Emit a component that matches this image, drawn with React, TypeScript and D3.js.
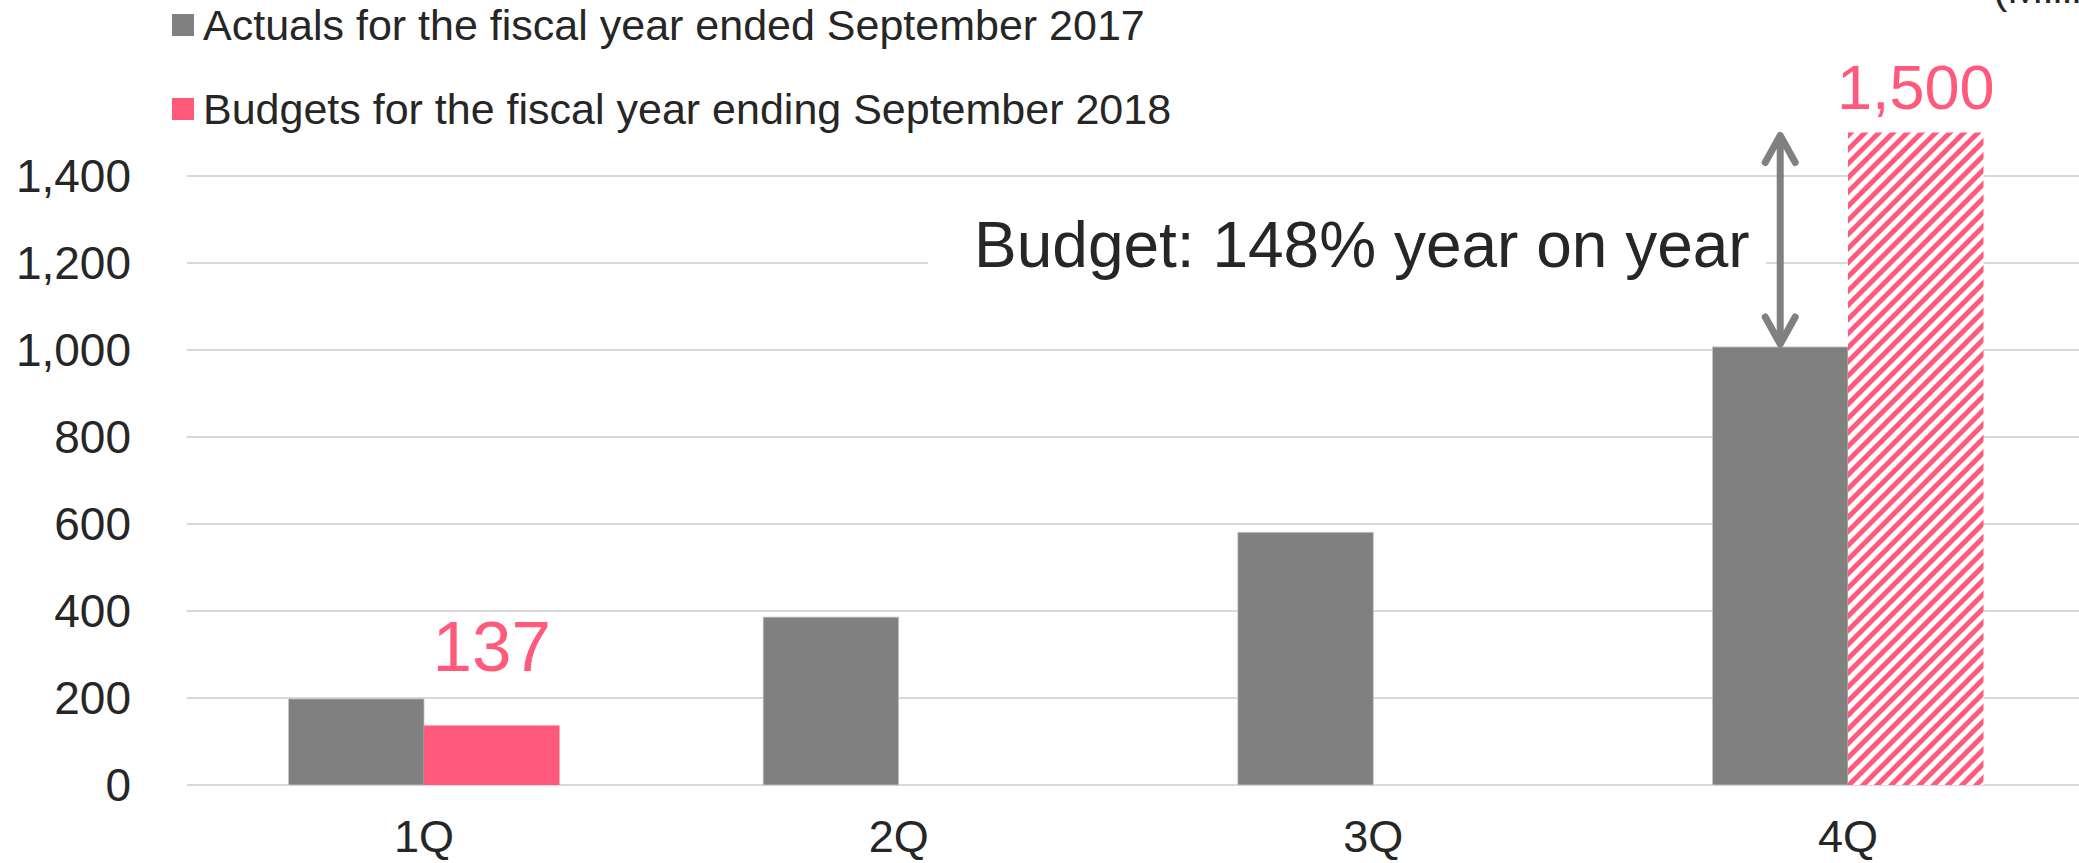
import React, { useEffect, useRef } from 'react';
import * as d3 from 'd3';

const categories = ['1Q', '2Q', '3Q', '4Q'];
const actuals = [198, 386, 581, 1007];
const budgets: (number | null)[] = [137, null, null, 1500];
const budgetHatched = [false, false, false, true];
const budgetLabels = ['137', '', '', '1,500'];
const yTicks = [0, 200, 400, 600, 800, 1000, 1200, 1400];
const legendItems = [
  { name: 'Actuals for the fiscal year ended September 2017', color: '#808080' },
  { name: 'Budgets for the fiscal year ending September 2018', color: '#FF5A7B' },
];
const annotationText = 'Budget: 148% year on year';
const unitText = '(Millions of yen)';

const WIDTH = 2079;
const HEIGHT = 863;
const GRAY = '#808080';
const PINK = '#FF5A7B';
const TEXT = '#262626';
const FONT = '"Liberation Sans", Arial, sans-serif';

const App: React.FC = () => {
  const svgRef = useRef<SVGSVGElement>(null);

  useEffect(() => {
    if (!svgRef.current) return;
    document.body.style.margin = '0';

    const svg = d3.select(svgRef.current);
    svg.selectAll('*').remove();
    svg.attr('width', WIDTH).attr('height', HEIGHT).style('font-family', FONT);

    // hatch pattern for the 4Q budget
    const defs = svg.append('defs');
    const pattern = defs
      .append('pattern')
      .attr('id', 'hatch')
      .attr('patternUnits', 'userSpaceOnUse')
      .attr('width', 10)
      .attr('height', 10)
      .attr('patternTransform', 'rotate(45)');
    pattern.append('rect').attr('width', 10).attr('height', 10).attr('fill', 'white');
    pattern.append('rect').attr('width', 5).attr('height', 10).attr('fill', PINK);

    const y = d3.scaleLinear().domain([0, 1600]).range([785, 785 - 1600 * 0.435]);
    const x = d3
      .scaleBand<string>()
      .domain(categories)
      .range([186.7, 2085.3])
      .paddingInner(0.429)
      .paddingOuter(0.2145);
    const sub = d3.scaleBand<string>().domain(['actual', 'budget']).range([0, x.bandwidth()]);

    // gridlines
    svg
      .append('g')
      .selectAll('line')
      .data(yTicks)
      .enter()
      .append('line')
      .attr('x1', 187)
      .attr('x2', WIDTH)
      .attr('y1', d => y(d))
      .attr('y2', d => y(d))
      .attr('stroke', '#D9D9D9')
      .attr('stroke-width', 2);

    // y labels
    svg
      .append('g')
      .selectAll('text')
      .data(yTicks)
      .enter()
      .append('text')
      .attr('x', 131)
      .attr('y', d => y(d))
      .attr('dy', '0.35em')
      .attr('text-anchor', 'end')
      .attr('font-size', 46)
      .attr('fill', TEXT)
      .text(d => d3.format(',')(d));

    // x labels
    svg
      .append('g')
      .selectAll('text')
      .data(categories)
      .enter()
      .append('text')
      .attr('x', d => (x(d) as number) + x.bandwidth() / 2)
      .attr('y', 852)
      .attr('text-anchor', 'middle')
      .attr('font-size', 45)
      .attr('fill', TEXT)
      .text(d => d);

    // annotation box hides the gridline behind it
    svg
      .append('rect')
      .attr('x', 928)
      .attr('y', 200)
      .attr('width', 838)
      .attr('height', 130)
      .attr('fill', 'white');
    svg
      .append('text')
      .attr('x', 974)
      .attr('y', 267)
      .attr('font-size', 64)
      .attr('fill', TEXT)
      .text(annotationText);

    // actual bars
    svg
      .append('g')
      .selectAll('rect')
      .data(actuals)
      .enter()
      .append('rect')
      .attr('x', (d, i) => (x(categories[i]) as number) + (sub('actual') as number))
      .attr('y', d => y(d))
      .attr('width', sub.bandwidth())
      .attr('height', d => y(0) - y(d))
      .attr('fill', GRAY)
      .attr('stroke', '#c8c8c8')
      .attr('stroke-width', 0.8);

    // budget bars
    const budgetData = budgets
      .map((v, i) => ({ v, i }))
      .filter(d => d.v !== null) as { v: number; i: number }[];

    svg
      .append('g')
      .selectAll('rect')
      .data(budgetData)
      .enter()
      .append('rect')
      .attr('x', d => (x(categories[d.i]) as number) + (sub('budget') as number))
      .attr('y', d => y(d.v))
      .attr('width', sub.bandwidth())
      .attr('height', d => y(0) - y(d.v))
      .attr('fill', d => (budgetHatched[d.i] ? 'url(#hatch)' : PINK));

    // budget value labels
    const labelStyle = [
      { size: 71, gap: 54 },
      { size: 63, gap: 24 },
    ];
    svg
      .append('g')
      .selectAll('text')
      .data(budgetData)
      .enter()
      .append('text')
      .attr('x', d => (x(categories[d.i]) as number) + (sub('budget') as number) + sub.bandwidth() / 2)
      .attr('y', d => y(d.v) - labelStyle[budgetHatched[d.i] ? 1 : 0].gap)
      .attr('text-anchor', 'middle')
      .attr('font-size', d => labelStyle[budgetHatched[d.i] ? 1 : 0].size)
      .attr('fill', PINK)
      .text(d => budgetLabels[d.i]);

    // double-headed arrow from 4Q actual to 4Q budget
    const last = categories.length - 1;
    const ax = (x(categories[last]) as number) + (sub('actual') as number) + sub.bandwidth() / 2;
    const yTop = y(budgets[last] as number) + 2;
    const yBot = y(actuals[last]) - 2;
    const arrow = svg
      .append('g')
      .attr('stroke', GRAY)
      .attr('stroke-width', 7)
      .attr('stroke-linecap', 'round')
      .attr('stroke-linejoin', 'round')
      .attr('fill', 'none');
    arrow.append('line').attr('x1', ax).attr('x2', ax).attr('y1', yTop + 3).attr('y2', yBot - 3).attr('stroke-linecap', 'butt');
    arrow
      .append('path')
      .attr('d', `M${ax - 15},${yTop + 28}L${ax},${yTop + 1}L${ax + 15},${yTop + 28}`);
    arrow
      .append('path')
      .attr('d', `M${ax - 15},${yBot - 28}L${ax},${yBot - 1}L${ax + 15},${yBot - 28}`);

    // legend
    const legend = svg
      .selectAll('.legend')
      .data(legendItems)
      .enter()
      .append('g')
      .attr('class', 'legend')
      .attr('transform', (d, i) => `translate(172, ${25 + i * 84})`);
    legend
      .append('rect')
      .attr('y', -11)
      .attr('width', 22)
      .attr('height', 22)
      .attr('fill', d => d.color);
    legend
      .append('text')
      .attr('x', 31)
      .attr('dy', '0.35em')
      .attr('font-size', 43)
      .attr('fill', TEXT)
      .text(d => d.name);

    // unit label, cropped at the top-right corner as in the source
    svg
      .append('text')
      .attr('x', 1993)
      .attr('y', 3)
      .attr('font-size', 43)
      .attr('fill', TEXT)
      .text(unitText);
  }, []);

  return <svg ref={svgRef} style={{ display: 'block' }} />;
};

export default App;
